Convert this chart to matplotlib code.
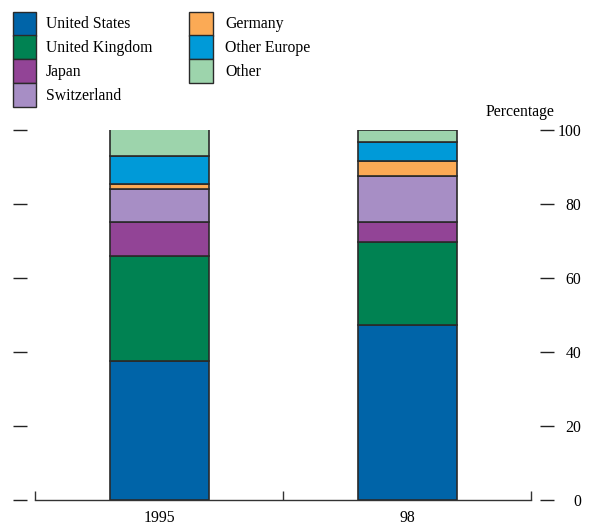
import matplotlib
matplotlib.use("Agg")
import matplotlib.pyplot as plt
from matplotlib.patches import Rectangle
import numpy as np

plt.rcParams['font.family'] = ['Liberation Serif', 'DejaVu Serif']
plt.rcParams['font.size'] = 11.3

# Data (percent shares)
years = ['1995', '98']
series = ['United States', 'United Kingdom', 'Japan', 'Switzerland',
          'Germany', 'Other Europe', 'Other']
us = [37.5, 47.1]
uk = [28.4, 22.5]
japan = [9.0, 5.4]
switzerland = [8.9, 12.3]
germany = [1.6, 4.1]
other_europe = [7.4, 5.1]
other = [7.2, 3.5]
values = [us, uk, japan, switzerland, germany, other_europe, other]
colors = ['#0064A8', '#008252', '#924496', '#A78EC5',
          '#FBAA55', '#009AD8', '#9DD4AC']

W, H = 592, 530
fig = plt.figure(figsize=(W / 100, H / 100), dpi=100)
ax = fig.add_axes([12.7 / W, (H - 499.5) / H, (554 - 12.7) / W, 370 / H])

x = np.arange(len(years))
bottom = np.zeros(len(years))
for vals, col in zip(values, colors):
    ax.bar(x, vals, width=0.4, bottom=bottom, color=col,
           edgecolor='#2a2a2a', linewidth=1.2, zorder=3)
    bottom += np.array(vals)

ax.set_xlim(-0.591, 1.592)
ax.set_ylim(0, 100)

# spines
for s in ['left', 'right', 'top']:
    ax.spines[s].set_visible(False)
ax.spines['bottom'].set_bounds(-0.5, 1.5)
ax.spines['bottom'].set_linewidth(1.0)
ax.spines['bottom'].set_color('#333333')

# x ticks: separators at -0.5, 0.5, 1.5, labels under bars
ax.set_xticks([-0.5, 0.5, 1.5])
ax.set_xticklabels([])
ax.tick_params(axis='x', which='major', direction='in', length=6.5,
               width=1.0, color='#333333')
ax.set_xticks(x, minor=True)
ax.set_xticklabels(years, minor=True)
ax.tick_params(axis='x', which='minor', length=0, pad=7.5)

# y ticks: short dashes on both sides, labels on the right
ax.set_yticks([0, 20, 40, 60, 80, 100])
ax.tick_params(axis='y', direction='in', length=10, width=1.0,
               color='#222222', left=True, right=True,
               labelleft=False, labelright=True, pad=19.8)
for lab in ax.get_yticklabels():
    lab.set_horizontalalignment('right')

ax.text(1.0, 1.048, 'Percentage', transform=ax.transAxes,
        ha='right', va='center')

# legend drawn as stacked swatches in two columns
cols = [(12.7, 45.7, series[:4], colors[:4]),
        (189.3, 225, series[4:], colors[4:])]
sw_w, sw_h, top_y = 23.5, 23.8, 11.7
for px, tx, names, cs in cols:
    for i, (name, c) in enumerate(zip(names, cs)):
        y0 = top_y + i * sw_h
        fig.patches.append(Rectangle((px / W, 1 - (y0 + sw_h) / H),
                                     sw_w / W, sw_h / H,
                                     facecolor=c, edgecolor='#2a2a2a',
                                     linewidth=1.0,
                                     transform=fig.transFigure))
        fig.text(tx / W, 1 - (y0 + sw_h / 2 + 0.6) / H, name,
                 ha='left', va='center')

fig.savefig('out.png', dpi=100)
